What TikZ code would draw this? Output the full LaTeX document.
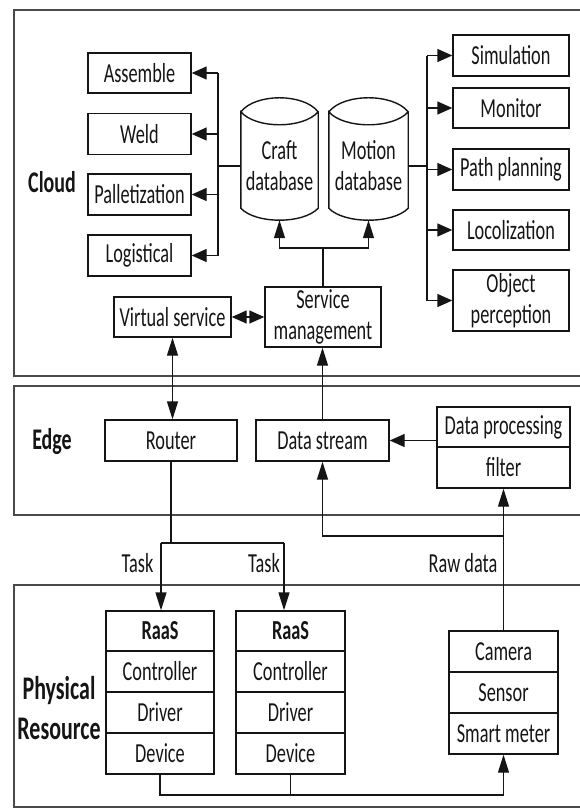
\documentclass[tikz,border=0pt]{standalone}
\usepackage{fontspec}
\setmainfont{Carlito}[FakeStretch=0.665]
\usetikzlibrary{arrows.meta,calc}
\definecolor{ink}{HTML}{151515}
\definecolor{frame}{HTML}{4A4A4A}
\tikzset{
  bx/.style={draw=ink, line width=1.4pt, inner sep=0pt, text=ink, align=center},
  lbl/.style={inner sep=0pt, text=ink, align=center},
  bigl/.style={lbl, font=\fontsize{30pt}{35pt}\selectfont\bfseries},
  layer/.style={draw=frame, line width=1.7pt},
  con/.style={draw=ink, line width=1.4pt},
  arr/.style={con, -{Triangle[length=15pt,width=13pt]}},
  varr/.style={con, -{Triangle[length=18pt,width=11pt]}},
  darr/.style={con, {Triangle[length=15pt,width=13pt]}-{Triangle[length=15pt,width=13pt]}},
  vdarr/.style={con, {Triangle[length=18pt,width=11pt]}-{Triangle[length=18pt,width=11pt]}},
  cylnode/.style={inner sep=0pt, text=ink, align=center}
}
\newcommand{\drawcyl}[1]{%
  \draw[con]
    (#1.north west) .. controls ($(#1.north west)+(15,-18.7)$) and ($(#1.north east)+(-15,-18.7)$) .. (#1.north east)
    .. controls ($(#1.north east)+(-15,17.3)$) and ($(#1.north west)+(15,17.3)$) .. (#1.north west)
    -- ($(#1.south west)+(0,-12)$)
    .. controls ($(#1.south west)+(15,4)$) and ($(#1.south east)+(-15,4)$) .. ($(#1.south east)+(0,-12)$)
    -- (#1.north east);}
\begin{document}
\begin{tikzpicture}[x=1pt,y=-1pt,font=\fontsize{27.5pt}{31pt}\selectfont]
\useasboundingbox (0,0) rectangle (579,809);
% layer frames
\draw[layer] (590,10) -- (14,10) -- (14,376) -- (590,376);
\draw[layer] (590,386) -- (14,386) -- (14,515) -- (590,515);
\draw[layer] (590,585) -- (14,585) -- (14,807) -- (590,807);
% layer labels
\node[bigl] (cloud) at (52,182) {Cloud};
\node[bigl] (edge) at (52,442) {Edge};
\node[lbl, font=\fontsize{33pt}{40pt}\selectfont\bfseries] (phys) at (59,708) {Physical\\Resource};
% cloud, left services
\node[bx, minimum width=103pt, minimum height=40pt] (assemble) at (139.5,73) {Assemble};
\node[bx, minimum width=103pt, minimum height=41pt] (weld) at (139.5,134) {Weld};
\node[bx, minimum width=103pt, minimum height=41pt] (pallet) at (139.5,194.5) {Palletization};
\node[bx, minimum width=103pt, minimum height=41pt] (logist) at (139.5,255.5) {Logistical};
% databases
\node[cylnode, minimum width=77pt, minimum height=108pt] (craft) at (279.5,166) {Craft\\database};
\node[cylnode, minimum width=79pt, minimum height=108pt] (motion) at (368.5,166) {Motion\\database};
\drawcyl{craft}
\drawcyl{motion}
% right services
\node[bx, minimum width=116pt, minimum height=41pt] (sim) at (511,55.5) {Simulation};
\node[bx, minimum width=116pt, minimum height=40pt] (monitor) at (511,108) {Monitor};
\node[bx, minimum width=116pt, minimum height=41pt] (path) at (511,169.5) {Path planning};
\node[bx, minimum width=116pt, minimum height=40pt] (loco) at (511,230) {Locolization};
\node[bx, minimum width=116pt, minimum height=61pt] (object) at (511,300.5) {Object\\perception};
% management
\node[bx, minimum width=116pt, minimum height=60pt] (service) at (323,317) {Service\\management};
\node[bx, minimum width=117pt, minimum height=40pt] (virtual) at (172.5,317) {Virtual service};
% edge
\node[bx, minimum width=132pt, minimum height=41pt] (router) at (171,440.5) {Router};
\node[bx, minimum width=133pt, minimum height=41pt] (datastream) at (322.5,440.5) {Data stream};
\node[bx, minimum width=133pt, minimum height=40pt] (dp1) at (503.5,427) {Data processing};
\node[bx, minimum width=133pt, minimum height=41pt] (dp2) at (503.5,467.5) {filter};
% physical
\node[bx, minimum width=108pt, minimum height=40pt, font=\fontsize{27.5pt}{31pt}\selectfont\bfseries] (raasA) at (160,631) {RaaS};
\node[bx, minimum width=108pt, minimum height=41pt] (ctrlA) at (160,671.5) {Controller};
\node[bx, minimum width=108pt, minimum height=41pt] (drvA) at (160,712.5) {Driver};
\node[bx, minimum width=108pt, minimum height=41pt] (devA) at (160,753.5) {Device};
\node[bx, minimum width=109pt, minimum height=40pt, font=\fontsize{27.5pt}{31pt}\selectfont\bfseries] (raasB) at (290.5,631) {RaaS};
\node[bx, minimum width=109pt, minimum height=41pt] (ctrlB) at (290.5,671.5) {Controller};
\node[bx, minimum width=109pt, minimum height=41pt] (drvB) at (290.5,712.5) {Driver};
\node[bx, minimum width=109pt, minimum height=41pt] (devB) at (290.5,753.5) {Device};
\node[bx, minimum width=109pt, minimum height=41pt] (cam) at (503.5,651.5) {Camera};
\node[bx, minimum width=109pt, minimum height=41pt] (sensor) at (503.5,692.5) {Sensor};
\node[bx, minimum width=109pt, minimum height=41pt] (smart) at (503.5,733.5) {Smart meter};
% connector labels
\node[lbl] (task1) at (137.5,563) {Task};
\node[lbl] (task2) at (264,563) {Task};
\node[lbl] (raw) at (463,563) {Raw data};
% junction coordinates
\coordinate (lt) at (218,0);
\coordinate (rt) at (427,0);
\coordinate (cj) at (323,248);
\coordinate (rj) at (503.5,536);
\coordinate (tl) at (161,543);
\coordinate (tr) at (284,543);
\coordinate (bj) at (0,795);
% cloud connectors
\draw[con] (craft.west) -- (craft.west -| lt);
\draw[con] (lt |- assemble.east) -- (lt |- logist.east);
\foreach \n in {assemble,weld,pallet,logist} \draw[arr] (lt |- \n.east) -- (\n.east);
\draw[con] (motion.east) -- (motion.east -| rt);
\draw[con] (rt |- sim.west) -- (rt |- object.west);
\foreach \n in {sim,monitor,path,loco,object} \draw[arr] (rt |- \n.west) -- (\n.west);
\draw[con] (service.north) -- (cj);
\draw[varr] (cj) -| (craft.south);
\draw[varr] (cj) -| (motion.south);
\draw[darr] (virtual.east) -- (service.west);
% cloud - edge
\draw[vdarr] (virtual.south) -- (virtual.south |- router.north);
\draw[varr] (datastream.north) -- (datastream.north |- service.south);
% edge
\draw[arr] (dp1.west |- datastream.east) -- (datastream.east);
\draw[varr] (cam.north) -- (dp2.south);
\draw[varr] (rj) -| (datastream.south);
% tasks
\draw[con] (router.south) -- (router.south |- tl);
\draw[con] (tl) -- (tr);
\draw[varr] (tl) -- (tl |- raasA.north);
\draw[varr] (tr) -- (tr |- raasB.north);
% physical bottom
\draw[varr] (devA.south) -- (devA.south |- bj) -| (smart.south);
\draw[con] (devB.south) -- (devB.south |- bj);
\end{tikzpicture}
\end{document}
